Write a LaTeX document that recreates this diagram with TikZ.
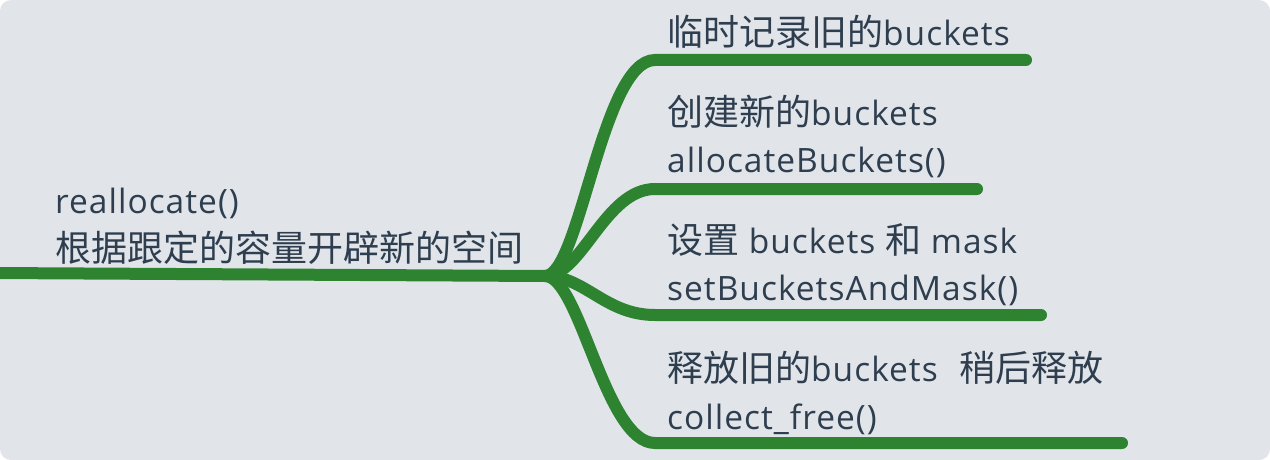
\documentclass[tikz,border=0pt]{standalone}
\usepackage{fontspec}
\setmainfont{Open Sans}[LetterSpace=3]
\newfontfamily\cjkfont{Noto Sans CJK SC}
\newcommand\zh[1]{{\cjkfont\fontsize{36}{40}\selectfont #1}}
\definecolor{bg}{RGB}{225,229,234}
\definecolor{branch}{RGB}{46,131,48}
\definecolor{ink}{RGB}{46,62,79}
\begin{document}
\begin{tikzpicture}[x=1pt,y=-1pt,
  lbl/.style={anchor=base west,inner sep=0pt,text=ink,font=\fontsize{33.5}{40}\selectfont},
  br/.style={draw=branch,line width=12pt,line cap=round}]
\useasboundingbox (0,0) rectangle (1270,460);
\fill[white] (0,0) rectangle (1270,460);
\fill[bg,rounded corners=11pt] (0,0) rectangle (1270,460);
% coordinates
\coordinate (rootstart) at (-8,273);
\coordinate (hub) at (545,276);
\coordinate (e1) at (1026,60);
\coordinate (e2) at (977,189);
\coordinate (e3) at (1041,315);
\coordinate (e4) at (1122,443);
% root line
\draw[br,line cap=butt] (rootstart) -- (hub);
% branches
\draw[br] (hub) .. controls (580,276) and (602,60) .. (655,60) -- (e1);
\draw[br] (hub) .. controls (582,276) and (605,189) .. (655,189) -- (e2);
\draw[br] (hub) .. controls (585,276) and (605,315) .. (655,315) -- (e3);
\draw[br] (hub) .. controls (580,276) and (605,443) .. (655,443) -- (e4);
% texts
\node[lbl] (r1) at (55,213) {reallocate()};
\node[lbl] (r2) at (55,261) {\zh{根据跟定的容量开辟新的空间}};
\node[lbl] (a1) at (667,46) {\zh{临时记录旧的}buckets};
\node[lbl] (b1) at (667,125) {\zh{创建新的}buckets};
\node[lbl] (b2) at (667,172) {allocateBuckets()};
\node[lbl] (c1) at (667,253) {\zh{设置} buckets \zh{和} mask};
\node[lbl] (c2) at (667,300) {setBucketsAndMask()};
\node[lbl] (d1) at (667,381) {\zh{释放旧的}buckets\hspace{22pt}\zh{稍后释放}};
\node[lbl] (d2) at (667,429) {collect\_free()};
\end{tikzpicture}
\end{document}
